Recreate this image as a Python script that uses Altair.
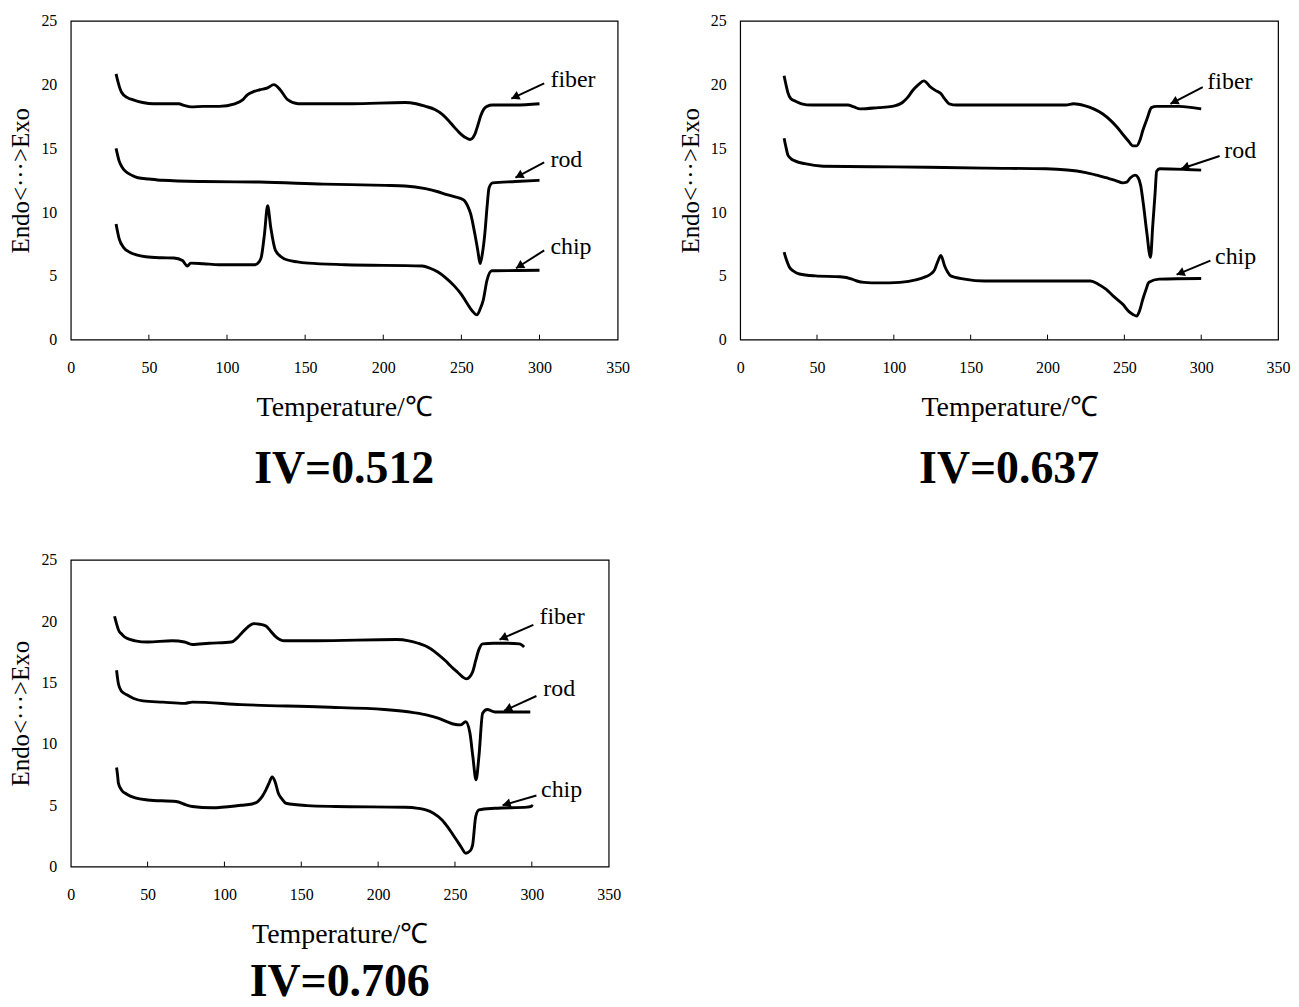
import math
import altair as alt
import pandas as pd

SERIF = "Liberation Serif"
X_TICKS = [0, 50, 100, 150, 200, 250, 300, 350]
Y_TICKS = [0, 5, 10, 15, 20, 25]
INNER_TICKS = [50, 100, 150, 200, 250, 300]
SAMPLES = ["fiber", "rod", "chip"]

# ---------------- Panel 1: IV=0.512 ----------------
P1_FIBER_T = [29, 30.5, 32.5, 36, 40, 46, 53, 69, 73, 77, 85, 95, 105, 110, 113, 117, 121, 126, 130, 134, 139, 145.5, 180, 214, 221, 227, 233, 238, 242, 245.6, 249, 252, 255.5, 258.6, 260.5, 262.5, 264.5, 266.4, 270, 284.6, 300]
P1_FIBER_V = [20.85, 20.1, 19.4, 19.0, 18.8, 18.6, 18.5, 18.5, 18.35, 18.26, 18.3, 18.3, 18.5, 18.8, 19.2, 19.45, 19.6, 19.75, 20.0, 19.6, 18.8, 18.5, 18.5, 18.6, 18.5, 18.3, 18.05, 17.65, 17.15, 16.65, 16.2, 15.9, 15.7, 16.1, 16.8, 17.6, 18.1, 18.3, 18.4, 18.4, 18.5]
P1_ROD_T = [29, 31, 33, 35, 39, 43, 50, 58.5, 84.5, 121, 162, 201, 214, 227, 235, 240, 246, 250, 252, 254, 256, 258.6, 260.5, 262, 263.5, 265, 266.5, 267.7, 270, 284.6, 300]
P1_ROD_V = [15.0, 14.0, 13.5, 13.2, 12.9, 12.7, 12.6, 12.5, 12.4, 12.36, 12.2, 12.1, 12.05, 11.84, 11.6, 11.4, 11.2, 11.05, 10.9, 10.5, 9.84, 8.3, 7.0, 5.96, 6.8, 8.3, 10.5, 11.9, 12.3, 12.4, 12.5]
P1_CHIP_T = [29, 31, 34, 37.7, 42, 48, 58, 66, 71.5, 74.6, 76.7, 85, 95, 110, 118, 120.5, 122, 124, 126, 128, 131, 136.5, 145, 152, 175.5, 225, 230, 235, 240, 245.6, 250, 253.4, 257, 260, 262, 264, 266.4, 269.5, 285, 300]
P1_CHIP_V = [9.07, 7.9, 7.2, 6.86, 6.65, 6.5, 6.42, 6.4, 6.2, 5.78, 6.0, 5.95, 5.88, 5.88, 5.88, 6.1, 6.5, 8.3, 10.5, 8.8, 7.0, 6.35, 6.1, 6.0, 5.88, 5.78, 5.6, 5.3, 4.85, 4.2, 3.55, 2.9, 2.25, 1.94, 2.4, 3.1, 4.66, 5.4, 5.42, 5.44]
P1_LABEL_X = [307, 307, 307]
P1_LABEL_Y = [20.4, 14.1, 7.25]
P1_TAIL_X = [303, 303, 303]
P1_TAIL_Y = [20.1, 13.9, 7.0]
P1_TIP_X = [282, 284.6, 285]
P1_TIP_Y = [18.9, 12.7, 5.6]

# ---------------- Panel 2: IV=0.637 ----------------
P2_FIBER_T = [28.6, 30, 31, 33, 36, 40, 46.5, 70, 74, 78, 90, 99, 105.6, 109, 112, 116, 119.5, 124, 127, 130.6, 133, 136, 141, 180, 212, 217, 224, 230, 236, 241, 245, 249, 252.5, 255.6, 258, 260, 262, 265, 267.6, 271, 285.6, 300]
P2_FIBER_V = [20.7, 19.9, 19.4, 18.9, 18.7, 18.5, 18.4, 18.4, 18.25, 18.1, 18.2, 18.3, 18.6, 19.0, 19.5, 20.0, 20.3, 19.8, 19.55, 19.3, 18.9, 18.5, 18.4, 18.4, 18.4, 18.5, 18.35, 18.1, 17.7, 17.2, 16.7, 16.1, 15.6, 15.2, 15.2, 15.6, 16.4, 17.4, 18.2, 18.3, 18.3, 18.1]
P2_ROD_T = [28.6, 30, 31, 33, 36, 42, 54, 100, 133, 160, 199, 225, 232, 238, 244, 249, 251.5, 254, 257, 259, 260.6, 262.5, 264.6, 267, 268.5, 270, 271, 273, 290, 300]
P2_ROD_V = [15.8, 15.0, 14.5, 14.2, 14.0, 13.8, 13.6, 13.55, 13.5, 13.45, 13.4, 13.1, 12.9, 12.7, 12.5, 12.3, 12.35, 12.7, 12.9, 12.7, 12.1, 10.5, 8.4, 6.46, 9.0, 11.5, 13.2, 13.4, 13.35, 13.3]
P2_CHIP_T = [28.6, 30, 32, 35, 38.6, 49, 65, 72.8, 76, 80.7, 90, 104, 115, 120, 124, 126.6, 128.5, 130.6, 133, 135, 137, 146, 159, 228, 233, 238, 243, 249, 253, 255.6, 258, 260, 262, 264, 266, 272.6, 300]
P2_CHIP_V = [6.86, 6.3, 5.7, 5.35, 5.15, 5.0, 4.93, 4.75, 4.6, 4.49, 4.45, 4.49, 4.7, 4.9, 5.15, 5.5, 6.1, 6.6, 5.8, 5.3, 5.0, 4.75, 4.6, 4.6, 4.35, 3.96, 3.4, 2.77, 2.2, 1.98, 1.85, 2.3, 3.17, 3.9, 4.5, 4.75, 4.8]
P2_LABEL_X = [304, 315, 309]
P2_LABEL_Y = [20.2, 14.8, 6.5]
P2_TAIL_X = [301, 312, 306]
P2_TAIL_Y = [19.8, 14.4, 6.2]
P2_TIP_X = [280, 287, 284]
P2_TIP_Y = [18.5, 13.4, 5.1]

# ---------------- Panel 3: IV=0.706 ----------------
P3_FIBER_T = [28.5, 30, 31, 33.5, 36.5, 42, 50, 66, 74, 79, 90, 104.5, 108, 111, 115, 119, 123, 127, 130, 133.7, 139, 160, 212, 220, 226, 233.6, 239, 244, 248, 252, 255, 257.6, 259.5, 261.6, 263.5, 265.6, 268, 275, 284, 292, 295]
P3_FIBER_V = [20.4, 19.7, 19.3, 18.9, 18.6, 18.4, 18.3, 18.4, 18.3, 18.1, 18.2, 18.3, 18.6, 19.0, 19.5, 19.8, 19.75, 19.6, 19.2, 18.7, 18.4, 18.4, 18.5, 18.4, 18.2, 17.8, 17.3, 16.75, 16.25, 15.8, 15.45, 15.3, 15.45, 15.9, 16.8, 17.7, 18.15, 18.2, 18.2, 18.15, 17.9]
P3_ROD_T = [29.8, 30.5, 31, 33, 36.5, 41, 47, 60, 74, 79, 111, 164, 204, 223, 232, 239, 245, 249.6, 253.6, 257, 259.7, 261.6, 263.7, 265.6, 268, 271, 276, 299]
P3_ROD_V = [16.0, 15.3, 14.9, 14.3, 14.0, 13.7, 13.5, 13.4, 13.3, 13.4, 13.2, 13.0, 12.8, 12.55, 12.35, 12.1, 11.8, 11.6, 11.55, 11.8, 10.9, 9.0, 7.07, 9.0, 12.5, 12.8, 12.6, 12.6]
P3_CHIP_T = [29.8, 30.5, 31, 33, 36.5, 42, 50, 68.5, 75, 79, 92, 111, 118, 121.7, 124.5, 127, 129, 131, 133, 135, 137.5, 140, 153.7, 172, 217.6, 226, 231, 236, 241.6, 246, 251, 254, 257, 260, 261.5, 263.5, 265.6, 276, 297, 299.7, 300.3]
P3_CHIP_V = [8.07, 7.4, 6.8, 6.25, 5.9, 5.6, 5.43, 5.3, 5.03, 4.9, 4.8, 5.0, 5.1, 5.3, 5.7, 6.25, 6.8, 7.3, 6.9, 6.0, 5.5, 5.16, 4.97, 4.9, 4.84, 4.75, 4.62, 4.35, 3.8, 3.1, 2.17, 1.6, 1.09, 1.3, 1.77, 4.08, 4.62, 4.75, 4.85, 4.9, 5.05]
P3_LABEL_X = [305, 307.5, 306]
P3_LABEL_Y = [20.3, 14.45, 6.2]
P3_TAIL_X = [301, 303, 303]
P3_TAIL_Y = [19.7, 13.9, 5.8]
P3_TIP_X = [279, 282, 281]
P3_TIP_Y = [18.5, 12.7, 5.0]

TITLES = ["IV=0.512", "IV=0.637", "IV=0.706"]


def series_df(ts, vs):
    rows = []
    for name, t, v in zip(SAMPLES, ts, vs):
        assert len(t) == len(v), name
        for a, b in zip(t, v):
            rows.append({"T": a, "V": b, "sample": name})
    return pd.DataFrame(rows)


def panel(ts, vs, lx, ly, tx, ty, px, py, title, W, H, title_offset):
    sx = W / 350.0
    sy = H / 25.0
    xs = alt.Scale(domain=[0, 350], nice=False)
    ys = alt.Scale(domain=[0, 25], nice=False)
    xaxis = alt.Axis(values=X_TICKS, title="Temperature/℃", labelFontSize=16,
                     labelPadding=20, titleFontSize=28, titlePadding=18, labelFlush=False)
    yaxis = alt.Axis(values=Y_TICKS, title="Endo<···>Exo", labelFontSize=16,
                     labelPadding=14, titleFontSize=25, titlePadding=7)

    df = series_df(ts, vs)
    line = alt.Chart(df).mark_line(color="black", strokeWidth=2.9, interpolate="monotone").encode(
        x=alt.X("T:Q", scale=xs, axis=xaxis),
        y=alt.Y("V:Q", scale=ys, axis=yaxis),
        detail="sample:N",
    )

    tick_df = pd.DataFrame({"T": INNER_TICKS, "y0": [0] * len(INNER_TICKS),
                            "y1": [5.0 / sy] * len(INNER_TICKS)})
    ticks = alt.Chart(tick_df).mark_rule(color="black", strokeWidth=1).encode(
        x=alt.X("T:Q", scale=xs), y=alt.Y("y0:Q", scale=ys), y2="y1:Q")

    arows = []
    for i, name in enumerate(SAMPLES):
        dxp = (px[i] - tx[i]) * sx
        dyp = -(py[i] - ty[i]) * sy
        L = math.hypot(dxp, dyp)
        ux, uy = dxp / L, dyp / L
        ang = math.degrees(math.atan2(ux, -uy)) % 360
        arows.append({
            "label": name, "lx": lx[i], "ly": ly[i],
            "tx": tx[i], "ty": ty[i], "px": px[i], "py": py[i],
            "hx": px[i] - 4 * ux / sx, "hy": py[i] + 4 * uy / sy, "ang": ang,
        })
    adf = pd.DataFrame(arows)
    shafts = alt.Chart(adf).mark_rule(color="black", strokeWidth=2).encode(
        x=alt.X("tx:Q", scale=xs), y=alt.Y("ty:Q", scale=ys), x2="px:Q", y2="py:Q")
    heads = alt.Chart(adf).mark_point(shape="triangle-up", filled=True, color="black",
                                      size=90, opacity=1).encode(
        x=alt.X("hx:Q", scale=xs), y=alt.Y("hy:Q", scale=ys),
        angle=alt.Angle("ang:Q", scale=None))
    labels = alt.Chart(adf).mark_text(align="left", baseline="middle", font=SERIF,
                                      fontSize=24, color="black").encode(
        x=alt.X("lx:Q", scale=xs), y=alt.Y("ly:Q", scale=ys), text="label:N")

    return alt.layer(line, ticks, shafts, heads, labels).properties(
        width=W, height=H,
        title=alt.TitleParams(title, orient="bottom", anchor="middle", fontSize=46,
                              fontWeight="bold", font=SERIF, color="black",
                              offset=title_offset),
    )


p1 = panel([P1_FIBER_T, P1_ROD_T, P1_CHIP_T], [P1_FIBER_V, P1_ROD_V, P1_CHIP_V],
           P1_LABEL_X, P1_LABEL_Y, P1_TAIL_X, P1_TAIL_Y, P1_TIP_X, P1_TIP_Y,
           TITLES[0], 549, 320, 26)
p2 = panel([P2_FIBER_T, P2_ROD_T, P2_CHIP_T], [P2_FIBER_V, P2_ROD_V, P2_CHIP_V],
           P2_LABEL_X, P2_LABEL_Y, P2_TAIL_X, P2_TAIL_Y, P2_TIP_X, P2_TIP_Y,
           TITLES[1], 540, 320, 26)
p3 = panel([P3_FIBER_T, P3_ROD_T, P3_CHIP_T], [P3_FIBER_V, P3_ROD_V, P3_CHIP_V],
           P3_LABEL_X, P3_LABEL_Y, P3_TAIL_X, P3_TAIL_Y, P3_TIP_X, P3_TIP_Y,
           TITLES[2], 540, 308, 12)

chart = alt.vconcat(alt.hconcat(p1, p2, spacing=47), p3, spacing=58).properties(
    padding={"left": 0, "top": 2, "right": 0, "bottom": 0}
).configure_view(stroke="black", strokeWidth=1.2).configure_axis(
    grid=False, domain=False, ticks=False, labelColor="black", titleColor="black",
    labelFont=SERIF, titleFont=SERIF, titleFontWeight="normal",
)

chart.save("out.html", embed_options={"renderer": "svg", "actions": False})
